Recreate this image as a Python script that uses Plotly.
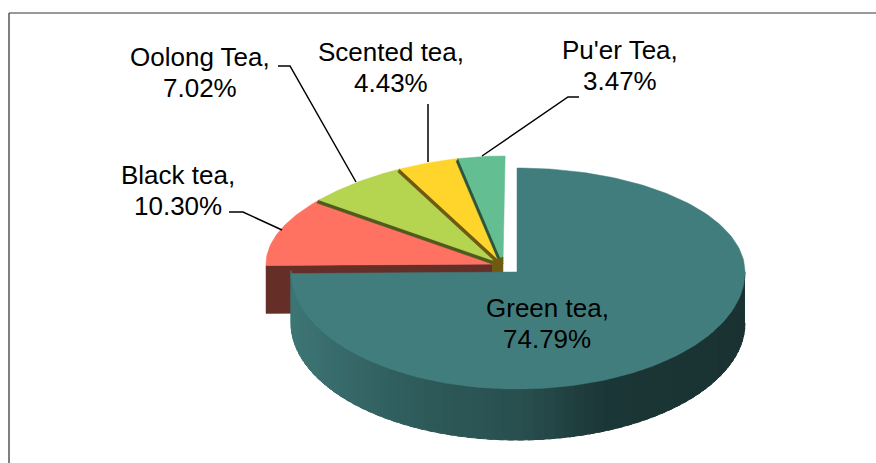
import numpy as np
import plotly.graph_objects as go

# Values
categories = ['Green tea', 'Black tea', 'Oolong Tea', 'Scented tea', "Pu'er Tea"]
shares = [74.79, 10.30, 7.02, 4.43, 3.47]
top_colors = ['#417d7d', '#ff7160', '#b5d550', '#ffd52b', '#63bf92']
edge_colors = ['#2b5555', '#652e27', '#4f5a1e', '#6f5a12', '#2a5540']

# Label centres and leader lines, in image pixels
label_x = [547, 178, 200, 391, 620]
label_y = [323, 190, 72, 67, 65]
LINE_GAP = 31
leaders = [
    None,
    ([229, 243, 282], [212, 212, 230]),
    ([278, 290, 356], [66, 66, 182]),
    ([428, 428], [104, 162]),
    ([579, 568, 482], [97, 97, 156]),
]

# Pie geometry (tilted, so top and bottom halves differ a little)
GREEN_C = (517, 272)
GREEN_RX_RIGHT = 228
GREEN_RX_LEFT = 226
GREEN_RY_UP = 104
GREEN_RY_LOW = 117
GREEN_DEPTH = 51
REST_C = (505, 264)
REST_APEX = (503, 264)
REST_RY = 108
REST_DEPTH = 48


def green_point(theta):
    # theta in degrees, clockwise from 12 o'clock
    t = np.radians(theta)
    rx = np.where(np.sin(t) >= 0, GREEN_RX_RIGHT, GREEN_RX_LEFT)
    ry = np.where(np.cos(t) >= 0, GREEN_RY_UP, GREEN_RY_LOW)
    return GREEN_C[0] + rx * np.sin(t), GREEN_C[1] - ry * np.cos(t)


def rest_point(theta):
    # the exploded slices widen slightly towards the left
    t = np.radians(theta)
    s = np.sin(t)
    return REST_C[0] + s * (216 + 23 * s ** 2), REST_C[1] - REST_RY * np.cos(t)


def poly(xs, ys, color, width=0.5):
    return go.Scatter(x=list(xs), y=list(ys), mode='lines', fill='toself',
                      fillcolor=color, line=dict(color=color, width=width),
                      hoverinfo='skip', showlegend=False)


def side_color(x):
    # shading of the green wall, left to right
    stops_x = [290, 400, 520, 600, 745]
    stops = np.array([[62, 118, 118], [48, 93, 93], [41, 79, 79], [28, 55, 55], [26, 50, 50]])
    rgb = [np.interp(x, stops_x, stops[:, i]) for i in range(3)]
    return 'rgb(%d,%d,%d)' % tuple(rgb)


edges = np.concatenate([[0], np.cumsum(shares)]) * 3.6
fig = go.Figure()

# Black tea front wall, mostly hidden by the green slice
lx, ly = rest_point(edges[1])
fig.add_trace(poly([REST_APEX[0], lx, lx, REST_APEX[0]],
                   [REST_APEX[1], ly, ly + REST_DEPTH, REST_APEX[1] + REST_DEPTH], edge_colors[1]))

# Small slices, front to back
for i in range(1, 5):
    th = np.linspace(edges[i], edges[i + 1], 40)
    x, y = rest_point(th)
    if i > 1:
        fig.add_trace(poly([REST_APEX[0], x[0], x[0] - 2, REST_APEX[0] - 2],
                           [REST_APEX[1], y[0], y[0] + 3, REST_APEX[1] + 3], edge_colors[i]))
    fig.add_trace(poly(np.r_[REST_APEX[0], x, REST_APEX[0]],
                       np.r_[REST_APEX[1], y, REST_APEX[1]], top_colors[i]))

# Dark hub where the small slices meet
hx = [REST_APEX[0] - 11, REST_APEX[0], REST_APEX[0], REST_APEX[0] - 11]
hy = [REST_APEX[1] - 3, REST_APEX[1] - 7, REST_APEX[1] + 8, REST_APEX[1] + 8]
fig.add_trace(poly(hx, hy, edge_colors[3]))

# Green wall as thin shaded bands, overlapping so no seams show
band = np.linspace(90, edges[1], 70)
for a, b in zip(band[:-1], band[1:]):
    xa, ya = green_point(a)
    xb, yb = green_point(b + 1.5)
    fig.add_trace(poly([xa, xb, xb, xa], [ya, yb, yb + GREEN_DEPTH, ya + GREEN_DEPTH],
                       side_color((xa + xb) / 2), width=1))

# Green top
th = np.linspace(0, edges[1], 200)
x, y = green_point(th)
fig.add_trace(poly(np.r_[GREEN_C[0], x, GREEN_C[0]], np.r_[GREEN_C[1], y, GREEN_C[1]], top_colors[0]))

# Leader lines
for seg in leaders:
    if seg:
        fig.add_trace(go.Scatter(x=seg[0], y=seg[1], mode='lines', hoverinfo='skip',
                                 line=dict(color='#000000', width=1.5), showlegend=False))

# Labels, one annotation per line to hold the tight line spacing
for name, share, lx, ly in zip(categories, shares, label_x, label_y):
    for text, dy in ((f'{name},', -LINE_GAP / 2), (f'{share:.2f}%', LINE_GAP / 2)):
        fig.add_annotation(x=lx, y=ly + dy, text=text, showarrow=False,
                           font=dict(family='Liberation Sans', size=26, color='#000000'))

# Chart frame: only top and left edges are inside the picture
fig.add_shape(type='line', x0=9, x1=876, y0=13, y1=13, line=dict(color='#777777', width=1.5))
fig.add_shape(type='line', x0=9, x1=9, y0=13, y1=463, line=dict(color='#555555', width=1.5))

fig.update_layout(
    width=876, height=463,
    margin=dict(l=0, r=0, t=0, b=0),
    paper_bgcolor='white', plot_bgcolor='white',
    showlegend=False,
    xaxis=dict(range=[0, 876], visible=False, fixedrange=True),
    yaxis=dict(range=[463, 0], visible=False, fixedrange=True),
)

# the page's default body margin would push the chart 8px off
fig.write_html("out.html", config=dict(displayModeBar=False),
               post_script="document.body.style.margin='0';")
